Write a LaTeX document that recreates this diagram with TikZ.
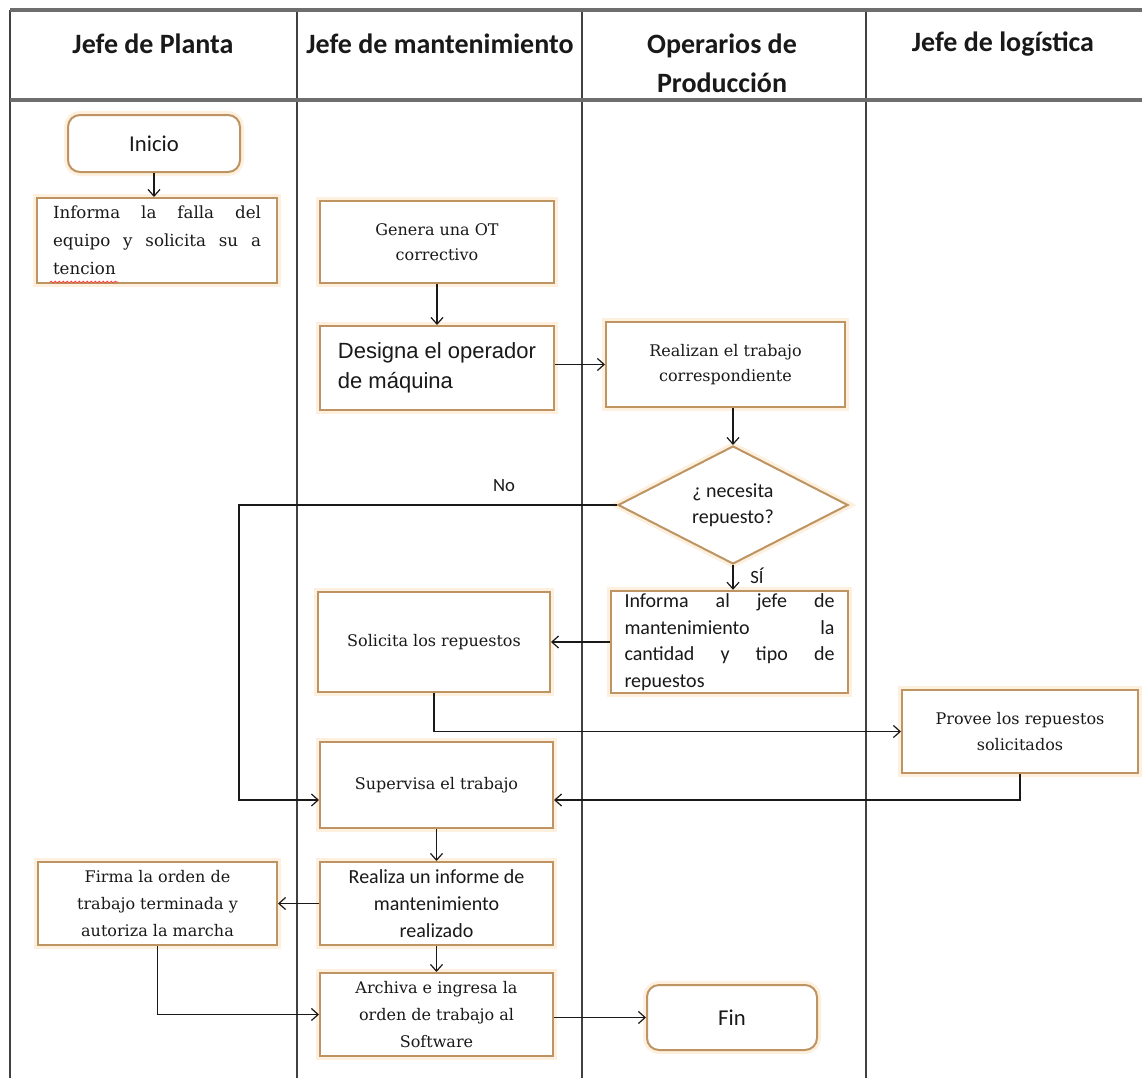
\documentclass[tikz,border=0pt]{standalone}
\usepackage{fontspec}
\setmainfont{DejaVu Serif}
\newfontfamily\calfont{Carlito}
\newfontfamily\arfont{Liberation Sans}
\usetikzlibrary{arrows.meta,shapes.geometric,decorations.pathmorphing}
\definecolor{boxc}{RGB}{190,148,98}
\definecolor{glowc}{RGB}{253,240,222}
\definecolor{linec}{RGB}{65,65,65}
\definecolor{hdrc}{RGB}{110,110,110}
\definecolor{txtc}{RGB}{25,25,25}
\begin{document}
\begin{tikzpicture}[x=0.75pt,y=-0.75pt,
 proc/.style={draw=boxc, line width=1.5pt, fill=white, preaction={draw=glowc, line width=6pt}, text=txtc, inner sep=2pt},
 term/.style={proc, rounded corners=9pt},
 decision/.style={proc, diamond, aspect=2, inner sep=0pt},
 serif/.style={font=\fontsize{12}{19}\selectfont, align=center},
 serifiii/.style={font=\fontsize{12}{20.5}\selectfont, align=center},
 sans/.style={font=\calfont\fontsize{15}{19.5}\selectfont, align=center},
 conn/.style={draw=black!90, line width=0.9pt, -{Straight Barb[length=5pt,width=9pt]}},
 lane/.style={draw=linec, line width=1.1pt},
 hline/.style={draw=hdrc, line width=2.4pt},
 hdr/.style={font=\calfont\bfseries\fontsize{21}{27}\selectfont, text=txtc, align=center},
 lbl/.style={font=\calfont\fontsize{14}{16}\selectfont, text=txtc}]

\useasboundingbox (0,0) rectangle (1142,1078);
\fill[white] (0,0) rectangle (1142,1078);

% swimlane table
\foreach \xx in {10,297,582,866} \draw[lane] (\xx,10) -- (\xx,1078);
\draw[hline] (10,10) -- (1142,10);
\draw[hline] (10,100) -- (1142,100);

% headers
\node[hdr] (h1) at (153,44) {Jefe de Planta};
\node[hdr] (h2) at (440,44) {Jefe de mantenimiento};
\node[hdr] (h3) at (722,63) {Operarios de\\[2pt]Producción};
\node[hdr] (h4) at (1003,44) {Jefe de logística};

% nodes
\node[term, minimum width=129pt, minimum height=42.75pt, font=\calfont\fontsize{17}{20}\selectfont] (inicio) at (154,143.5) {Inicio};
\node[proc, minimum width=180pt, minimum height=63.75pt, text width=156pt, align=left, font=\fontsize{12.5}{21}\selectfont] (falla) at (157,240.5) {Informa\hfill la\hfill falla\hfill del\\ equipo\hfill y\hfill solicita\hfill su\hfill a\\ tencion};
\draw[red!80, line width=0.5pt, decorate, decoration={snake, amplitude=0.7pt, segment length=3pt}] (50,282) -- (118,282);

\node[proc, minimum width=175.5pt, minimum height=61.5pt, serif] (genera) at (437,242) {Genera una OT\\correctivo};
\node[proc, minimum width=175.5pt, minimum height=63pt, font=\arfont\fontsize{16.5}{22.5}\selectfont, align=left] (designa) at (437,368) {Designa el operador\\de máquina};
\node[proc, minimum width=179.25pt, minimum height=63.75pt, serif] (realizan) at (725.5,364.5) {Realizan el trabajo\\correspondiente};
\node[decision, minimum width=172.5pt, minimum height=88.5pt, sans] (dec) at (733,505) {¿ necesita\\repuesto?};
\node[proc, minimum width=177.75pt, minimum height=75pt, text width=157.5pt, align=left, font=\calfont\fontsize{15}{20}\selectfont] (jefe) at (729.5,642) {Informa\hfill al\hfill jefe\hfill de\\ mantenimiento\hfill la\\ cantidad\hfill y\hfill tipo\hfill de\\ repuestos};
\node[proc, minimum width=174pt, minimum height=75pt, serif] (solicita) at (434,642) {Solicita los repuestos};
\node[proc, minimum width=177pt, minimum height=62.25pt, serif] (provee) at (1020,731.5) {Provee los repuestos\\solicitados};
\node[proc, minimum width=174.75pt, minimum height=64.5pt, serif] (supervisa) at (436.5,785) {Supervisa el trabajo};
\node[proc, minimum width=174.75pt, minimum height=62.25pt, font=\calfont\fontsize{15}{20.5}\selectfont, align=center] (realiza) at (436.5,903.5) {Realiza un informe de\\mantenimiento\\realizado};
\node[proc, minimum width=179.25pt, minimum height=62.25pt, serifiii] (firma) at (157.5,903.5) {Firma la orden de\\trabajo terminada y\\autoriza la marcha};
\node[proc, minimum width=174.75pt, minimum height=62.25pt, serifiii] (archiva) at (436.5,1014.5) {Archiva e ingresa la\\orden de trabajo al\\Software};
\node[term, minimum width=127.5pt, minimum height=48.75pt, font=\calfont\fontsize{17}{20}\selectfont] (fin) at (732,1017.5) {Fin};

% labels
\node[lbl] (no) at (504,486) {No};
\node[lbl] (si) at (757,576) {SÍ};

% connectors
\coordinate (noturn) at (239,505);
\draw[conn] (inicio.south) -- (inicio.south |- falla.north);
\draw[conn] (genera.south) -- (designa.north);
\draw[conn] (designa.east |- realizan.west) -- (realizan.west);
\draw[conn] (realizan.south -| dec.north) -- (dec.north);
\draw[conn] (dec.west) -- (noturn) |- ([yshift=-11.25pt]supervisa.west);
\draw[conn] (dec.south) -- (dec.south |- jefe.north);
\draw[conn] (jefe.west) -- (solicita.east);
\draw[conn] (solicita.south) |- (provee.west);
\draw[conn] (provee.south) |- ([yshift=-11.25pt]supervisa.east);
\draw[conn] (supervisa.south) -- (realiza.north);
\draw[conn] (realiza.west) -- (firma.east);
\draw[conn] (realiza.south) -- (archiva.north);
\draw[conn] (firma.south) |- (archiva.west);
\draw[conn] (archiva.east |- fin.west) -- (fin.west);
\end{tikzpicture}
\end{document}
